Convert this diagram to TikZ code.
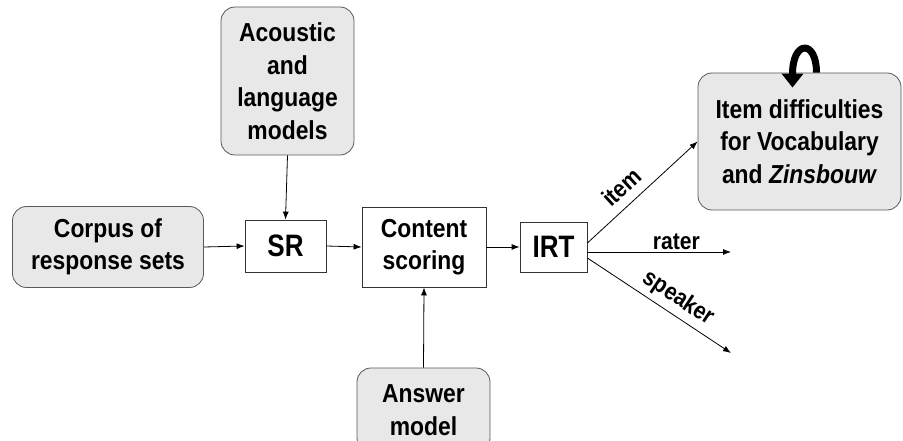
\documentclass[tikz,border=0pt]{standalone}
\usepackage{fontspec}
\setmainfont{Liberation Sans}
\newfontfamily\narrowfont{Liberation Sans}[FakeStretch=0.88]
\newfontfamily\tightfont{Liberation Sans}[FakeStretch=0.84]
\usepackage{tikz}
\usetikzlibrary{positioning,arrows.meta}

\begin{document}
\begin{tikzpicture}[x=1pt, y=-1pt, >={Latex[length=8pt,width=6pt]}, every node/.style={font=\narrowfont\fontsize{26}{32.5}\selectfont\bfseries}]
  \tikzstyle{src}=[draw=black!65, line width=0.8pt, rounded corners=14pt, fill=black!9, align=center, inner sep=0pt]
  \tikzstyle{proc}=[draw=black!80, line width=0.8pt, fill=white, align=center, inner sep=0pt]
  \tikzstyle{big}=[font=\tightfont\fontsize{31}{34}\selectfont\bfseries]
  \tikzstyle{lbl}=[font=\narrowfont\fontsize{24}{26}\selectfont\bfseries]
  \clip (0,0) rectangle (903,441);
  \useasboundingbox (0,0) rectangle (903,441);
  \node[src, minimum width=191pt, minimum height=81pt] (corpus) at (108,247) {Corpus of\\response sets};
  \node[proc, big, minimum width=81pt, minimum height=52pt] (sr) at (285.5,246) {SR};
  \node[proc, minimum width=124pt, minimum height=80pt] (content) at (424,247) {Content\\scoring};
  \node[proc, big, minimum width=67pt, minimum height=50pt] (irt) at (553.5,247) {IRT};
  \node[src, minimum width=133pt, minimum height=148pt] (acoustic) at (287.5,81) {Acoustic\\and\\language\\models};
  \node[src, minimum width=133pt, minimum height=84pt] (answer) at (423.5,410) {Answer\\model};
  \node[src, minimum width=203pt, minimum height=137pt] (item) at (799.5,141.5) {Item difficulties\\for Vocabulary\\and \textit{Zinsbouw}};
  \coordinate (raterend) at (731,252);
  \coordinate (speakerend) at (731,353);
  \draw[->, line width=0.8pt] (corpus.east) -- (sr.west);
  \draw[->, line width=0.8pt] (acoustic.south) -- (sr.north);
  \draw[->, line width=0.8pt] (sr.east) -- (content.west);
  \draw[->, line width=0.8pt] (answer.north) -- (content.south);
  \draw[->, line width=0.8pt] (content.east) -- (irt.west);
  \draw[->, line width=0.8pt] ([yshift=4pt]irt.east) -- node[lbl, sloped, above, pos=0.42, inner sep=9pt] {item} (item.west);
  \draw[->, line width=0.8pt] ([yshift=-5pt]irt.east) -- node[lbl, above, pos=0.62, inner sep=2pt] {rater} (raterend);
  \draw[->, line width=0.8pt] ([yshift=-11pt]irt.east) -- node[lbl, sloped, above, pos=0.57, inner sep=5pt] {speaker} (speakerend);
  \draw[-{Triangle[length=14pt,width=21pt]}, line width=7pt] ([xshift=17pt]item.north) .. controls ([xshift=17pt, yshift=33pt]item.north) and ([xshift=-7pt, yshift=33pt]item.north) .. ([xshift=-7pt, yshift=-15pt]item.north);
\end{tikzpicture}
\end{document}
